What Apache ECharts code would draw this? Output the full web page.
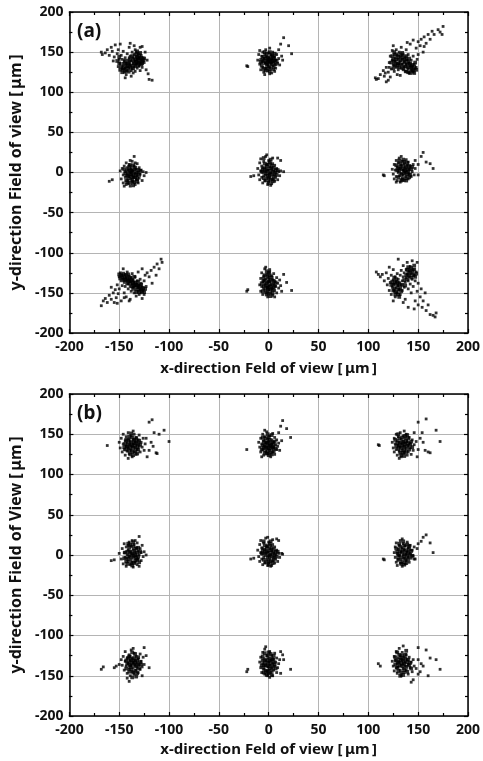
<!DOCTYPE html>
<html>
<head>
<meta charset="utf-8">
<script src="https://cdn.jsdelivr.net/npm/echarts@6/dist/echarts.min.js"></script>
<style>html,body{margin:0;padding:0;background:#fff}#c{width:483px;height:761px}</style>
</head>
<body>
<div id="c"></div>
<script>
// Panel (a) clusters [x, y] in µm (spread points)
const a1 = [[-168,150],[-167,147],[-164,149],[-162,153],[-160,146],[-158,156],[-157,151],[-155,144],[-154,159],[-152,148],[-151,153],[-150,141],[-149,160],[-149,136],[-148,146],[-147,129],[-146,133],[-146,151],[-145,139],[-145,125],[-144,130],[-144,143],[-143,122],[-143,136],[-142,127],[-142,148],[-141,132],[-141,140],[-140,156],[-140,125],[-139,145],[-139,134],[-138,120],[-138,139],[-137,129],[-137,150],[-136,136],[-136,143],[-135,132],[-135,147],[-134,139],[-134,153],[-134,126],[-133,144],[-133,135],[-132,141],[-132,130],[-131,148],[-131,137],[-130,143],[-130,133],[-129,156],[-129,127],[-128,140],[-128,146],[-127,131],[-126,143],[-125,137],[-124,150],[-123,128],[-122,140],[-121,123],[-120,116],[-117,115],[-144,118],[-151,132],[-156,139],[-139,161],[-135,158],[-127,157],[-147,141],[-143,131],[-138,127],[-132,136],[-136,124],[-146,136],[-140,143],[-133,150],[-129,136],[-131,142]];
const a2 = [[-22,133],[-21,132],[-11,140],[-10,147],[-9,135],[-9,152],[-8,141],[-8,128],[-7,145],[-7,137],[-6,150],[-6,131],[-5,142],[-5,125],[-4,147],[-4,136],[-3,153],[-3,130],[-2,140],[-2,145],[-1,134],[-1,127],[0,149],[0,138],[0,143],[1,131],[1,155],[2,136],[2,146],[3,124],[3,141],[4,133],[4,150],[5,138],[5,128],[6,144],[6,135],[7,140],[7,130],[8,147],[9,136],[10,142],[11,134],[12,160],[14,140],[15,168],[20,158],[23,148],[10,153],[13,145],[-4,122],[1,123],[-6,139],[3,137],[-1,140],[6,126],[-3,144]];
const a3 = [[107,118],[108,116],[110,117],[112,122],[115,127],[116,120],[118,113],[118,131],[120,115],[120,125],[121,137],[122,145],[122,119],[123,129],[124,152],[124,140],[125,134],[125,158],[126,147],[126,126],[127,139],[127,143],[128,131],[128,153],[129,136],[129,146],[130,141],[130,128],[131,150],[131,135],[132,138],[132,144],[133,130],[133,156],[134,141],[134,135],[135,147],[135,128],[136,138],[136,132],[137,144],[137,126],[138,135],[138,153],[139,131],[139,140],[140,129],[140,147],[141,136],[141,124],[142,133],[142,160],[143,128],[143,140],[144,131],[145,125],[145,145],[146,135],[147,129],[148,155],[148,131],[150,163],[150,147],[152,158],[153,166],[155,150],[156,169],[158,161],[160,172],[162,166],[164,176],[166,172],[170,178],[172,175],[175,182],[174,172],[145,165],[139,162],[156,157],[132,121],[126,133],[134,146],[129,122],[121,131],[149,141],[117,124]];
const a4 = [[-160,-11],[-157,-9],[-149,2],[-148,-8],[-147,5],[-146,-3],[-146,-13],[-145,8],[-144,-6],[-144,1],[-143,12],[-143,-15],[-142,-2],[-142,6],[-141,-10],[-141,3],[-140,-5],[-140,10],[-139,-17],[-139,0],[-138,-8],[-138,5],[-137,14],[-137,-3],[-136,-12],[-136,2],[-135,-6],[-135,8],[-134,-15],[-134,-1],[-133,4],[-133,-9],[-132,11],[-132,-4],[-131,0],[-131,-13],[-130,6],[-130,-7],[-129,-2],[-128,3],[-127,-10],[-126,1],[-125,-4],[-135,20],[-123,0],[-145,-17],[-139,15],[-137,-11],[-141,-14],[-134,12],[-143,-4],[-136,-6],[-138,-1]];
const a5 = [[-18,-5],[-15,-4],[-11,5],[-10,-3],[-9,12],[-9,-9],[-8,2],[-8,17],[-7,-6],[-7,8],[-6,-13],[-6,0],[-5,14],[-5,-4],[-4,6],[-4,-10],[-3,20],[-3,1],[-2,-7],[-2,10],[-1,-15],[-1,3],[0,15],[0,-2],[0,-11],[1,7],[1,-6],[2,11],[2,0],[3,-14],[3,4],[4,-8],[4,18],[5,2],[5,-4],[6,9],[6,-11],[7,0],[7,-6],[8,5],[9,-9],[10,1],[11,-4],[12,2],[15,1],[12,15],[9,18],[-2,22],[2,-16],[-6,6],[4,11],[-3,-3]];
const a6 = [[115,-3],[116,-4],[124,4],[125,-2],[126,10],[126,-8],[127,3],[128,15],[128,-5],[129,7],[129,-10],[130,0],[130,12],[131,-4],[131,18],[132,5],[132,-12],[133,9],[133,-1],[134,14],[134,-7],[135,3],[135,-3],[136,11],[136,-10],[137,6],[137,0],[138,16],[138,-5],[139,2],[139,9],[140,-8],[140,13],[141,4],[141,-2],[142,8],[143,-5],[144,1],[145,10],[146,-3],[147,5],[150,-3],[150,10],[153,20],[155,25],[158,13],[162,11],[165,5],[147,15],[133,20],[128,-12]];
const a7 = [[-168,-166],[-166,-160],[-164,-157],[-162,-162],[-160,-153],[-158,-158],[-156,-150],[-155,-162],[-154,-146],[-153,-156],[-152,-140],[-151,-151],[-150,-130],[-150,-145],[-149,-125],[-148,-135],[-148,-160],[-147,-128],[-147,-141],[-146,-120],[-146,-133],[-145,-137],[-145,-150],[-144,-127],[-144,-142],[-143,-131],[-143,-155],[-142,-135],[-142,-124],[-141,-139],[-141,-145],[-140,-129],[-140,-160],[-139,-136],[-139,-142],[-138,-131],[-138,-148],[-137,-139],[-137,-126],[-136,-143],[-136,-134],[-135,-150],[-135,-137],[-134,-141],[-134,-130],[-133,-146],[-133,-154],[-132,-139],[-132,-135],[-131,-148],[-131,-143],[-130,-140],[-130,-152],[-129,-146],[-129,-133],[-128,-150],[-128,-138],[-127,-143],[-127,-157],[-126,-147],[-125,-135],[-125,-152],[-124,-128],[-123,-142],[-122,-125],[-120,-130],[-118,-122],[-117,-138],[-115,-118],[-113,-128],[-112,-114],[-110,-120],[-108,-108],[-107,-112],[-152,-163],[-139,-158],[-145,-156],[-158,-143],[-131,-124],[-127,-120]];
const a8 = [[-22,-148],[-21,-146],[-9,-140],[-8,-132],[-8,-148],[-7,-125],[-7,-142],[-6,-136],[-6,-152],[-5,-129],[-5,-145],[-4,-120],[-4,-139],[-3,-133],[-3,-150],[-2,-127],[-2,-143],[-1,-137],[-1,-155],[0,-131],[0,-146],[0,-141],[1,-124],[1,-136],[2,-150],[2,-140],[3,-129],[3,-145],[4,-134],[4,-153],[5,-139],[5,-126],[6,-147],[6,-136],[7,-142],[8,-131],[8,-150],[9,-138],[10,-144],[11,-134],[13,-148],[15,-127],[18,-137],[23,-147],[12,-141],[-3,-118],[1,-121],[-5,-135],[3,-143],[0,-134],[-1,-149],[6,-155]];
const a9 = [[108,-124],[110,-127],[112,-130],[114,-127],[116,-135],[118,-125],[119,-140],[120,-132],[121,-118],[121,-147],[122,-137],[123,-128],[123,-152],[124,-143],[125,-134],[125,-121],[126,-148],[126,-139],[127,-130],[127,-155],[128,-144],[128,-136],[129,-150],[129,-126],[130,-141],[130,-133],[131,-146],[131,-137],[132,-128],[132,-152],[133,-140],[133,-122],[134,-135],[134,-147],[135,-130],[135,-116],[136,-143],[136,-125],[137,-137],[137,-158],[138,-121],[138,-131],[139,-112],[139,-127],[140,-135],[140,-145],[141,-123],[141,-130],[142,-117],[142,-139],[143,-126],[143,-150],[144,-133],[144,-110],[145,-121],[145,-142],[146,-128],[147,-135],[147,-160],[148,-124],[149,-148],[150,-138],[150,-165],[152,-155],[153,-145],[154,-168],[155,-160],[157,-150],[158,-172],[160,-165],[162,-177],[165,-178],[167,-180],[168,-175],[140,-168],[146,-170],[135,-162],[149,-112],[130,-108],[125,-160]];
// Panel (a) dense cores
const a1core = [[-134,141],[-133,138],[-132,144],[-131,140],[-130,137],[-129,142],[-128,135],[-127,139],[-133,147],[-130,146],[-128,143],[-126,140],[-135,136],[-136,140],[-137,145],[-134,133],[-131,133],[-127,136],[-129,149],[-132,151],[-140,137],[-142,133],[-144,135],[-146,130],[-148,132],[-150,136],[-149,128],[-145,128],[-143,126],[-141,129],[-139,131],[-147,125],[-141,136],[-138,133],[-136,130],[-144,139],[-150,144],[-152,139],[-139,141],[-125,142]];
const a2core = [[-5,139],[-4,142],[-3,137],[-2,135],[-1,143],[0,141],[1,138],[2,142],[3,135],[4,139],[5,143],[6,140],[-6,144],[-7,133],[-2,148],[0,132],[2,129],[4,145],[-3,127],[1,126],[5,131],[7,135],[-5,129],[-1,137],[3,147],[-4,150],[8,139],[-8,138],[1,150],[6,148],[2,139],[-2,130]];
const a3core = [[126,138],[128,141],[130,136],[132,140],[134,143],[136,137],[138,141],[140,138],[142,136],[144,134],[146,132],[148,128],[145,128],[143,132],[141,131],[139,135],[137,132],[135,130],[133,134],[131,131],[129,133],[127,135],[125,141],[124,145],[126,150],[128,147],[130,144],[132,147],[134,149],[136,141],[138,126],[140,125],[142,124],[144,127],[146,124],[147,137],[123,137],[125,130],[138,145],[141,142]];
const a4core = [[-140,-2],[-139,3],[-138,-5],[-137,1],[-136,-3],[-135,4],[-134,-6],[-133,0],[-132,-8],[-131,3],[-141,-7],[-142,2],[-143,-10],[-140,7],[-137,-9],[-135,-12],[-133,-3],[-136,9],[-139,-13],[-144,-1],[-130,-3],[-141,-4],[-138,2],[-134,6],[-132,-11],[-145,4],[-139,9],[-136,-16],[-129,2],[-142,-12]];
const a5core = [[-3,-1],[-2,4],[-1,-4],[0,2],[1,-2],[2,5],[3,-3],[4,1],[5,6],[-4,3],[-5,-7],[-6,4],[0,-7],[2,-9],[4,-11],[-2,8],[1,13],[-1,10],[3,8],[6,-2],[7,3],[8,-3],[-4,11],[-7,1],[0,-13],[-3,-10],[5,-8],[2,16],[-5,18],[9,3]];
const a6core = [[131,2],[132,7],[133,-3],[134,4],[135,8],[136,-1],[137,3],[138,7],[139,-2],[140,4],[141,8],[130,-6],[132,11],[134,-9],[136,13],[138,-10],[140,0],[142,-3],[143,4],[129,3],[128,9],[131,15],[135,16],[139,12],[133,-10],[137,-7],[144,7],[130,5],[136,2],[141,-6]];
const a7core = [[-150,-127],[-148,-128],[-147,-131],[-146,-126],[-145,-130],[-144,-133],[-143,-128],[-142,-132],[-141,-135],[-140,-133],[-139,-138],[-138,-135],[-137,-134],[-136,-138],[-135,-141],[-134,-137],[-133,-140],[-132,-143],[-131,-141],[-130,-145],[-129,-142],[-128,-146],[-127,-148],[-126,-144],[-125,-149],[-133,-149],[-130,-149],[-136,-145],[-139,-131],[-142,-138],[-145,-134],[-149,-132],[-128,-140],[-124,-145],[-131,-136],[-141,-127],[-137,-142],[-135,-130]];
const a8core = [[-4,-135],[-3,-141],[-2,-138],[-1,-145],[0,-136],[1,-142],[2,-134],[3,-139],[4,-146],[5,-135],[-5,-142],[-6,-148],[-3,-147],[0,-151],[2,-146],[-1,-130],[1,-128],[-4,-128],[3,-131],[6,-141],[-2,-152],[4,-150],[-5,-132],[0,-125],[-2,-123],[7,-137],[-7,-138],[2,-154],[5,-143],[-1,-143]];
const a9core = [[124,-136],[125,-140],[126,-145],[127,-137],[128,-149],[129,-141],[130,-146],[131,-139],[132,-144],[130,-152],[127,-152],[125,-147],[128,-133],[126,-131],[123,-140],[133,-148],[129,-137],[131,-155],[139,-121],[140,-125],[141,-128],[142,-122],[143,-119],[144,-124],[145,-128],[146,-121],[147,-130],[143,-131],[140,-118],[138,-128],[136,-134],[134,-140],[146,-116],[148,-126],[139,-133],[137,-141]];

// Panel (b) clusters [x, y] in µm (spread points)
const b1 = [[-162,136],[-150,140],[-149,133],[-148,145],[-147,128],[-146,138],[-146,150],[-145,131],[-144,142],[-144,124],[-143,135],[-143,147],[-142,129],[-142,139],[-141,152],[-141,133],[-140,144],[-140,126],[-139,137],[-139,141],[-138,130],[-138,148],[-137,135],[-137,122],[-136,143],[-136,138],[-135,128],[-135,150],[-134,133],[-134,140],[-133,146],[-133,125],[-132,137],[-132,131],[-131,143],[-130,135],[-130,149],[-129,128],[-128,140],[-127,134],[-126,145],[-125,130],[-124,138],[-122,122],[-120,130],[-120,165],[-117,168],[-115,152],[-113,127],[-112,126],[-110,150],[-105,155],[-100,141],[-118,140],[-123,145],[-116,135],[-141,120],[-136,154]];
const b2 = [[-22,131],[-10,140],[-9,134],[-8,145],[-8,128],[-7,138],[-6,150],[-6,131],[-5,142],[-5,124],[-4,135],[-4,147],[-3,129],[-3,139],[-2,153],[-2,133],[-1,144],[-1,126],[0,137],[0,141],[1,130],[1,148],[2,135],[2,122],[3,143],[3,138],[4,128],[4,151],[5,133],[5,140],[6,146],[6,125],[7,137],[8,131],[8,143],[9,135],[10,139],[11,130],[12,160],[14,167],[18,157],[22,146],[10,152],[13,142],[-4,155],[-7,122],[0,132],[-2,140]];
const b3 = [[110,137],[111,136],[124,140],[125,133],[126,145],[126,128],[127,138],[128,150],[128,131],[129,142],[129,124],[130,136],[130,147],[131,129],[131,140],[132,152],[132,134],[133,144],[133,122],[134,138],[134,130],[135,148],[135,141],[136,127],[136,135],[137,145],[137,139],[138,132],[138,150],[139,124],[139,141],[140,136],[140,128],[141,146],[142,133],[142,139],[143,125],[144,143],[145,130],[146,137],[148,141],[150,131],[150,165],[152,145],[154,152],[155,140],[157,130],[158,169],[160,128],[162,127],[168,155],[172,141],[149,122],[146,152],[131,120],[136,154]];
const b4 = [[-158,-7],[-155,-6],[-150,2],[-148,-5],[-147,8],[-146,-11],[-145,3],[-145,14],[-144,-3],[-143,10],[-143,-14],[-142,0],[-141,6],[-141,-8],[-140,16],[-140,-2],[-139,-12],[-139,4],[-138,11],[-138,-6],[-137,1],[-137,18],[-136,-15],[-136,7],[-135,-3],[-135,13],[-134,-9],[-134,3],[-133,9],[-133,-1],[-132,-12],[-132,15],[-131,5],[-131,-5],[-130,0],[-130,-14],[-129,8],[-128,-7],[-128,3],[-127,12],[-126,-2],[-125,4],[-123,0],[-130,23],[-137,-9],[-142,-4],[-134,18],[-141,12]];
const b5 = [[-18,-5],[-15,-4],[-11,6],[-10,-2],[-9,13],[-9,-8],[-8,3],[-8,18],[-7,-5],[-7,9],[-6,-12],[-6,1],[-5,15],[-5,-3],[-4,7],[-4,-10],[-3,21],[-3,2],[-2,-6],[-2,11],[-1,-13],[-1,4],[0,16],[0,-1],[0,-10],[1,8],[1,-5],[2,12],[2,1],[3,-13],[3,5],[4,-7],[4,19],[5,3],[5,-3],[6,10],[6,-10],[7,1],[7,-5],[8,6],[9,-8],[10,2],[11,-3],[13,2],[14,1],[10,18],[8,20],[-1,22],[2,-14],[-6,8],[4,13]];
const b6 = [[115,-5],[116,-6],[126,3],[127,-3],[127,10],[128,-9],[128,15],[129,2],[129,-13],[130,7],[130,-5],[131,12],[131,-1],[132,18],[132,-10],[133,4],[133,-6],[134,9],[134,-14],[135,0],[135,14],[136,-4],[136,6],[137,-11],[137,11],[138,1],[138,-7],[139,16],[139,4],[140,-3],[140,9],[141,-9],[142,2],[142,12],[143,-4],[144,6],[145,-1],[146,-5],[147,-5],[149,8],[150,14],[153,17],[155,22],[158,25],[162,15],[165,3],[146,10],[134,20]];
const b7 = [[-168,-142],[-166,-139],[-155,-140],[-153,-138],[-148,-130],[-147,-137],[-146,-126],[-145,-143],[-144,-132],[-144,-120],[-143,-138],[-142,-147],[-142,-128],[-141,-135],[-140,-124],[-140,-142],[-139,-131],[-139,-150],[-138,-137],[-138,-118],[-137,-145],[-137,-128],[-136,-134],[-136,-140],[-135,-122],[-135,-148],[-134,-131],[-134,-137],[-133,-143],[-133,-126],[-132,-134],[-132,-140],[-131,-129],[-131,-146],[-130,-137],[-129,-123],[-129,-142],[-128,-132],[-127,-139],[-126,-127],[-125,-115],[-125,-136],[-123,-125],[-120,-140],[-127,-150],[-140,-157],[-142,-153],[-136,-116],[-150,-136],[-139,-126]];
const b8 = [[-22,-145],[-21,-142],[-9,-133],[-8,-140],[-8,-127],[-7,-146],[-6,-121],[-6,-135],[-5,-142],[-5,-129],[-4,-148],[-4,-117],[-3,-137],[-3,-131],[-2,-144],[-2,-125],[-1,-139],[-1,-150],[0,-133],[0,-128],[0,-143],[1,-137],[1,-120],[2,-146],[2,-131],[3,-140],[3,-125],[4,-135],[4,-150],[5,-129],[5,-143],[6,-138],[6,-122],[7,-133],[8,-146],[8,-128],[9,-140],[10,-135],[11,-130],[12,-120],[12,-147],[15,-130],[22,-142],[14,-124],[-3,-114],[1,-152],[-5,-137]];
const b9 = [[110,-135],[112,-138],[124,-132],[125,-138],[126,-126],[126,-144],[127,-131],[128,-140],[128,-120],[129,-135],[129,-147],[130,-128],[130,-139],[131,-116],[131,-133],[132,-143],[132,-125],[133,-137],[133,-150],[134,-130],[134,-121],[135,-141],[135,-135],[136,-127],[136,-146],[137,-133],[137,-138],[138,-124],[138,-143],[139,-130],[140,-136],[140,-148],[141,-127],[142,-140],[143,-133],[144,-145],[145,-130],[146,-138],[148,-141],[150,-130],[150,-148],[153,-135],[155,-138],[158,-118],[160,-150],[162,-128],[168,-130],[172,-142],[145,-155],[143,-158],[150,-115],[135,-113],[152,-145]];
// Panel (b) dense cores
const b1core = [[-140,137],[-139,133],[-138,140],[-137,136],[-136,133],[-135,139],[-134,136],[-133,141],[-132,134],[-131,139],[-141,142],[-142,135],[-143,131],[-144,138],[-140,130],[-137,128],[-134,129],[-131,131],[-130,142],[-133,145],[-137,146],[-140,147],[-143,143],[-145,134],[-129,137],[-136,124],[-139,125],[-132,126],[-135,143],[-138,151]];
const b2core = [[-4,137],[-3,133],[-2,140],[-1,136],[0,133],[1,139],[2,136],[3,132],[4,140],[5,136],[-5,141],[-6,136],[-3,145],[0,146],[3,149],[-1,129],[2,127],[-4,127],[5,129],[6,141],[-7,131],[1,143],[-2,126],[4,134],[-6,146],[7,132],[0,124],[-1,150],[3,125],[-5,133]];
const b3core = [[131,136],[132,140],[133,133],[134,137],[135,141],[136,134],[137,138],[138,142],[139,135],[140,139],[130,132],[129,139],[131,145],[134,146],[137,148],[140,145],[142,137],[141,131],[138,128],[135,127],[132,127],[128,135],[133,124],[136,123],[143,141],[127,143],[130,150],[139,149],[144,134],[136,130]];
const b4core = [[-140,0],[-139,4],[-138,-3],[-137,2],[-136,-1],[-135,5],[-134,0],[-133,-4],[-132,3],[-131,-2],[-141,-5],[-142,4],[-143,-8],[-140,9],[-138,-10],[-136,11],[-134,-7],[-133,8],[-131,9],[-130,-9],[-144,3],[-139,13],[-137,-13],[-135,-10],[-132,-6],[-129,4],[-145,-4],[-141,14],[-136,16],[-142,-11]];
const b5core = [[-3,0],[-2,5],[-1,-3],[0,3],[1,-1],[2,6],[3,-2],[4,2],[5,7],[-4,4],[-5,-6],[-6,5],[0,-8],[2,-8],[4,-10],[-2,9],[1,14],[-1,11],[3,9],[6,-1],[7,4],[8,-2],[-4,12],[-7,2],[0,-12],[-3,-9],[5,-6],[2,17],[-5,17],[9,4]];
const b6core = [[131,1],[132,5],[133,-3],[134,3],[135,7],[136,-2],[137,2],[138,6],[139,-1],[140,3],[141,7],[130,-6],[132,10],[134,-9],[136,12],[138,-10],[140,-5],[142,0],[143,5],[129,4],[128,8],[131,14],[135,17],[139,13],[133,-11],[137,-6],[144,-1],[130,-1],[136,-12],[141,11]];
const b7core = [[-140,-133],[-139,-137],[-138,-130],[-137,-134],[-136,-131],[-135,-136],[-134,-133],[-133,-138],[-132,-131],[-131,-136],[-141,-128],[-142,-135],[-143,-141],[-140,-145],[-138,-142],[-136,-146],[-134,-144],[-132,-147],[-130,-141],[-129,-133],[-131,-127],[-134,-123],[-137,-121],[-140,-126],[-143,-131],[-139,-139],[-135,-128],[-128,-136],[-133,-151],[-137,-152]];
const b8core = [[-4,-133],[-3,-137],[-2,-130],[-1,-134],[0,-138],[1,-131],[2,-135],[3,-129],[4,-139],[5,-133],[-5,-140],[-6,-131],[-3,-144],[0,-147],[3,-144],[-1,-125],[2,-123],[-4,-122],[5,-125],[6,-136],[-7,-137],[1,-141],[-2,-149],[4,-130],[-6,-126],[7,-141],[0,-121],[-1,-145],[3,-149],[-5,-146]];
const b9core = [[130,-133],[131,-137],[132,-130],[133,-134],[134,-138],[135,-131],[136,-135],[137,-129],[138,-139],[139,-133],[129,-140],[128,-131],[130,-144],[133,-146],[136,-143],[139,-145],[141,-137],[140,-130],[137,-124],[134,-125],[131,-124],[127,-136],[132,-150],[135,-149],[142,-134],[127,-127],[129,-121],[138,-119],[143,-141],[133,-128]];

const panelLabels = ['(a)', '(b)'];
const xTitles = ['x-direction Feld of view [\u2009μm\u2009]', 'x-direction Feld of view [\u2009μm\u2009]'];
const yTitles = ['y-direction Field of view [\u2009μm\u2009]', 'y-direction Field of View [\u2009μm\u2009]'];
const axisMin = -200, axisMax = 200, axisStep = 50;

const FONT = 'Noto Sans';
const chart = echarts.init(document.getElementById('c'));

const grids = [
  {left: 64, top: 12, width: 406, height: 321},
  {left: 65, top: 394, width: 407, height: 322}
];

function mainAxis(gi, pos, name, gap) {
  return {
    type: 'value', gridIndex: gi, position: pos,
    min: axisMin, max: axisMax, interval: axisStep,
    name: name, nameLocation: 'middle', nameGap: gap,
    nameTextStyle: {fontFamily: FONT, fontWeight: 'bold', fontSize: pos === 'left' ? 16 : 15, color: '#111'},
    axisLine: {show: true, onZero: false, lineStyle: {color: '#000', width: 1.5}},
    axisTick: {show: true, inside: true, length: 4, lineStyle: {color: '#000', width: 1.2}},
    minorTick: {show: true, splitNumber: 2, length: 3, lineStyle: {color: '#000', width: 1.2}},
    axisLabel: {show: true, fontFamily: FONT, fontWeight: 'bold', fontSize: 14, color: '#111', margin: pos === 'left' ? 6 : 7},
    splitLine: {show: true, lineStyle: {color: '#b4b4b4', width: 1}},
    minorSplitLine: {show: false}
  };
}
function mirrorAxis(gi, pos) {
  return {
    type: 'value', gridIndex: gi, position: pos,
    min: axisMin, max: axisMax, interval: axisStep,
    axisLine: {show: true, onZero: false, lineStyle: {color: '#000', width: 1.5}},
    axisTick: {show: true, inside: true, length: 4, lineStyle: {color: '#000', width: 1.2}},
    minorTick: {show: true, splitNumber: 2, length: 3, lineStyle: {color: '#000', width: 1.2}},
    axisLabel: {show: false},
    splitLine: {show: false}
  };
}

const xAxes = [
  mainAxis(0, 'bottom', xTitles[0], 28), mirrorAxis(0, 'top'),
  mainAxis(1, 'bottom', xTitles[1], 26), mirrorAxis(1, 'top')
];
const yAxes = [
  mainAxis(0, 'left', yTitles[0], 40), mirrorAxis(0, 'right'),
  mainAxis(1, 'left', yTitles[1], 40), mirrorAxis(1, 'right')
];

const spreadA = [a1, a2, a3, a4, a5, a6, a7, a8, a9];
const coreA = [a1core, a2core, a3core, a4core, a5core, a6core, a7core, a8core, a9core];
const spreadB = [b1, b2, b3, b4, b5, b6, b7, b8, b9];
const coreB = [b1core, b2core, b3core, b4core, b5core, b6core, b7core, b8core, b9core];
const series = [];
function addSeries(list, axisIdx, size) {
  list.forEach(d => series.push({
    type: 'scatter', xAxisIndex: axisIdx, yAxisIndex: axisIdx, data: d,
    symbol: 'rect', symbolSize: size, itemStyle: {color: '#000'}, silent: true, animation: false
  }));
}
addSeries(spreadA, 0, 2.8);
addSeries(coreA, 0, 3.8);
addSeries(spreadB, 2, 2.8);
addSeries(coreB, 2, 3.8);

chart.setOption({
  backgroundColor: '#fff',
  animation: false,
  title: [
    {text: panelLabels[0], left: 77, top: 22, textStyle: {fontFamily: FONT, fontWeight: 'bold', fontSize: 19, color: '#111'}, padding: 0},
    {text: panelLabels[1], left: 77, top: 404, textStyle: {fontFamily: FONT, fontWeight: 'bold', fontSize: 19, color: '#111'}, padding: 0}
  ],
  grid: grids,
  xAxis: xAxes,
  yAxis: yAxes,
  series: series
});
</script>
</body>
</html>
